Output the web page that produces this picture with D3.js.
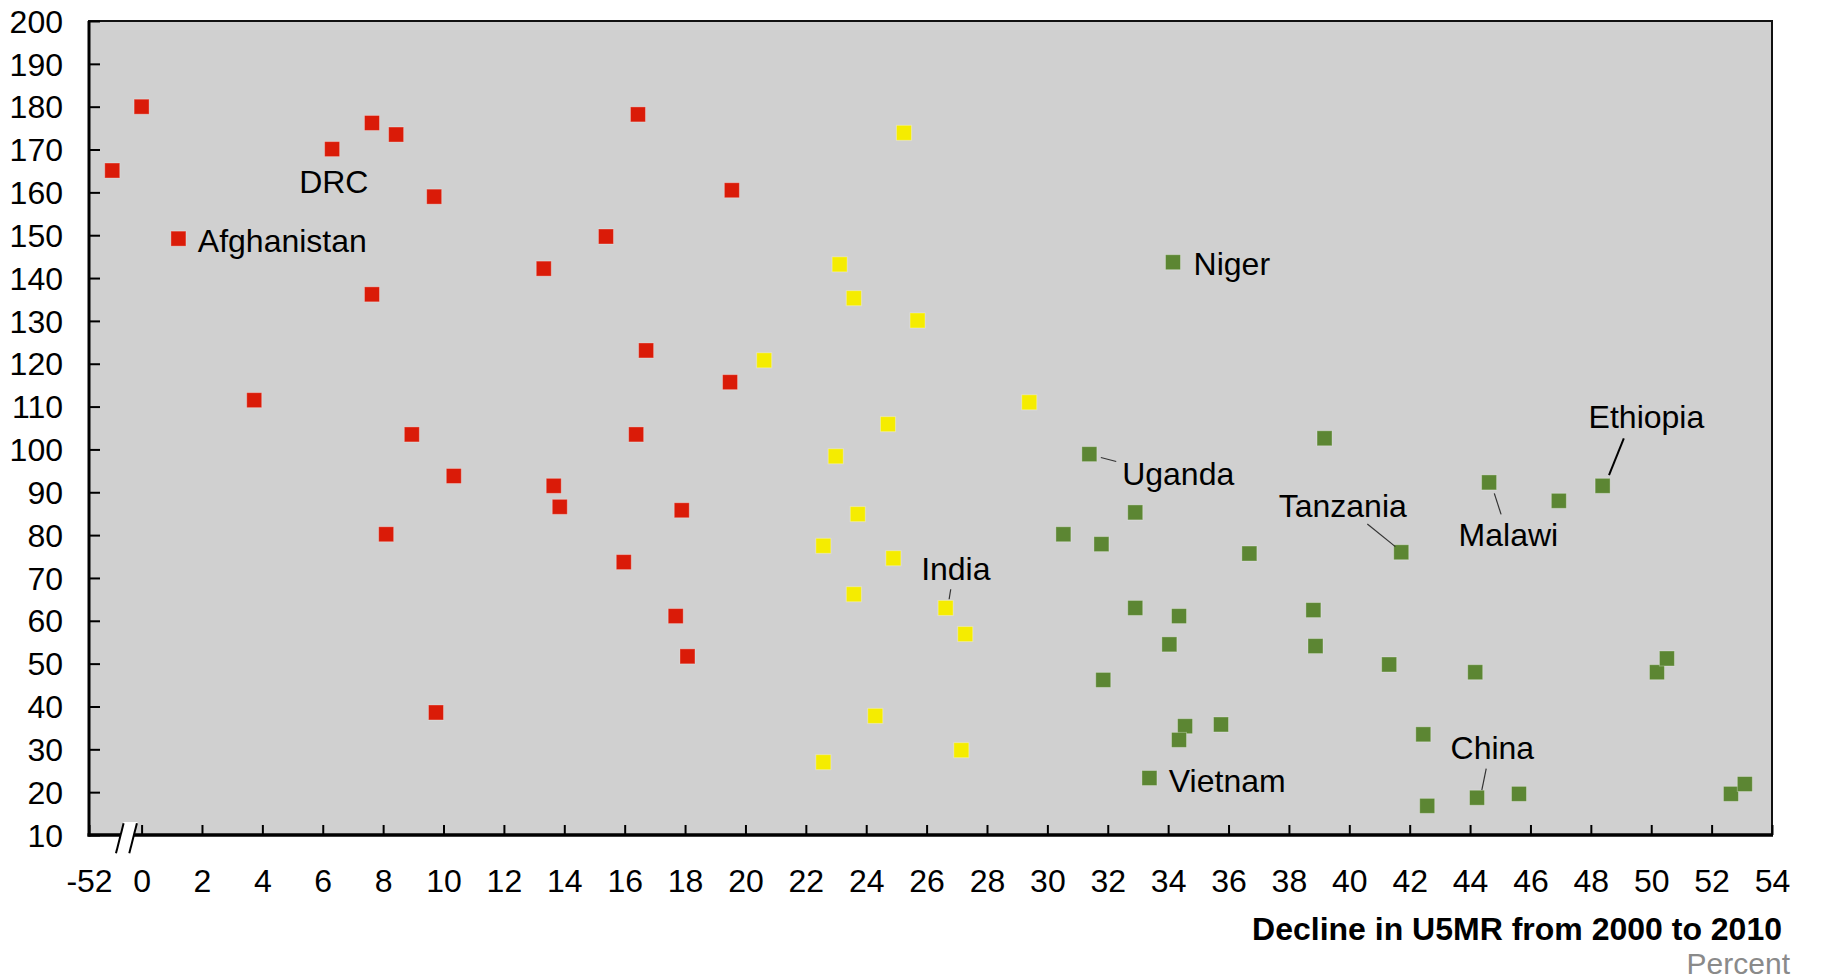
<!DOCTYPE html>
<html>
<head>
<meta charset="utf-8">
<script src="https://cdn.jsdelivr.net/npm/d3@7/dist/d3.min.js"></script>
<style>
  html, body { margin: 0; padding: 0; background: #ffffff; }
  svg { display: block; }
  text { font-family: "Liberation Sans", Arial, Helvetica, sans-serif; }
</style>
</head>
<body>
<svg id="chart" width="1847" height="980"></svg>
<script>
// ---------------- DATA ----------------
// [decline in U5MR 2000-2010 (%), U5MR level]
const redPoints = [
  [-51.23, 165.1], [0.0, 180.0], [6.31, 170.1], [7.63, 176.2], [8.43, 173.5],
  [9.69, 159.0], [1.22, 149.2], [7.63, 136.2], [13.32, 142.2], [15.38, 149.7],
  [3.73, 111.5], [8.95, 103.5], [10.34, 93.8], [13.65, 91.5], [13.85, 86.6],
  [8.10, 80.2], [9.75, 38.6], [16.44, 178.2], [19.55, 160.5], [16.71, 123.1],
  [19.49, 115.7], [16.38, 103.5], [17.89, 85.8], [15.97, 73.7], [17.69, 61.1],
  [18.08, 51.7]
];
const yellowPoints = [
  [25.25, 173.9], [23.12, 143.2], [23.59, 135.3], [25.70, 130.1], [20.62, 120.8],
  [29.40, 111.0], [24.72, 105.9], [22.99, 98.4], [23.72, 84.9], [22.58, 77.5],
  [24.90, 74.6], [23.59, 66.2], [26.63, 63.0], [27.28, 56.9], [24.30, 37.8],
  [27.15, 29.8], [22.58, 27.0]
];
const greenPoints = [
  [34.16, 143.7], [31.39, 98.9], [32.91, 85.3], [30.53, 80.2], [31.79, 77.9],
  [32.91, 63.0], [34.36, 61.1], [34.04, 54.5], [31.85, 46.2], [34.56, 35.4],
  [34.36, 32.2], [33.38, 23.3], [35.75, 35.8], [36.69, 75.7], [39.18, 102.6],
  [44.63, 92.3], [48.39, 91.5], [46.94, 88.0], [41.72, 76.0], [38.81, 62.5],
  [38.88, 54.1], [41.32, 49.8], [44.17, 48.0], [50.19, 48.0], [50.52, 51.2],
  [42.45, 33.5], [42.58, 16.8], [44.23, 18.7], [45.62, 19.6], [52.64, 19.6],
  [53.10, 21.9]
];
const seriesColors = ["#da1b08", "#f5ec00", "#5c8633"];

const xTickValues = [-52].concat(d3.range(0, 55, 2));
const yTickValues = d3.range(10, 201, 10);

const xTitle = "Decline in U5MR from 2000 to 2010";
const unitLabel = "Percent";

// Country annotations: series, index in series, label offset and optional leader
const annotations = [
  { name: "DRC",         s: 0, i: 2,  dx: 1.7,    dy: 44.3,  anchor: "middle" },
  { name: "Afghanistan", s: 0, i: 6,  dx: 19.4,   dy: 13.0 },
  { name: "Niger",       s: 2, i: 0,  dx: 20.6,   dy: 12.7 },
  { name: "Uganda",      s: 2, i: 1,  dx: 32.8,   dy: 30.7, leader: [11.5, 3.4, 26.9, 7.4] },
  { name: "India",       s: 1, i: 12, dx: -24.5,  dy: -28.0, leader: [5.1, -18.7, 3.5, -8.7] },
  { name: "Vietnam",     s: 2, i: 11, dx: 19.4,   dy: 13.7 },
  { name: "Tanzania",    s: 2, i: 18, dx: -122.5, dy: -35.6, leader: [-33.9, -28.3, -5.9, -5.6] },
  { name: "Malawi",      s: 2, i: 15, dx: -30.5,  dy: 63.4, leader: [5.2, 11.0, 12.0, 32.0] },
  { name: "Ethiopia",    s: 2, i: 16, dx: -14.0,  dy: -57.4, leader: [21.2, -47.4, 6.4, -10.7], thick: true },
  { name: "China",       s: 2, i: 27, dx: -26.5,  dy: -38.4, leader: [9.2, -29.0, 4.8, -7.7] }
];

// ---------------- LAYOUT ----------------
const svg = d3.select("#chart");
const pLeft = 89, pRight = 1772, pTop = 21, pBottom = 835;

// broken axis: a short stretch around -52, then 0..54
const x = d3.scaleLinear()
  .domain([-52, -51, -0.5, 54])
  .range([pLeft, 119.2, 126.5, pRight]);
const y = d3.scaleLinear().domain([10, 200]).range([pBottom, pTop]);

// plot background
svg.append("rect")
  .attr("x", pLeft).attr("y", pTop)
  .attr("width", pRight - pLeft).attr("height", pBottom - pTop)
  .attr("fill", "#d0d0d0")
  .attr("stroke", "#111").attr("stroke-width", 2);

// axes
const fontSize = 32;
const yAxis = d3.axisLeft(y).tickValues(yTickValues).tickSize(-11).tickPadding(26);
const gy = svg.append("g").attr("transform", `translate(${pLeft},0)`).call(yAxis);
gy.select(".domain").remove();
gy.selectAll(".tick line").attr("stroke", "#000").attr("stroke-width", 2);
gy.selectAll(".tick text")
  .attr("font-size", fontSize).attr("fill", "#000")
  .attr("font-family", "Liberation Sans, Arial, sans-serif")
  .attr("dy", "0.35em");

const xAxis = d3.axisBottom(x).tickValues(xTickValues).tickSize(-10).tickPadding(34)
  .tickFormat(d => String(d));
const gx = svg.append("g").attr("transform", `translate(0,${pBottom})`).call(xAxis);
gx.select(".domain").remove();
gx.selectAll(".tick line").attr("stroke", "#000").attr("stroke-width", 2);
gx.selectAll(".tick text")
  .attr("font-size", fontSize).attr("fill", "#000")
  .attr("font-family", "Liberation Sans, Arial, sans-serif");

// heavier left and bottom axis lines
svg.append("line").attr("x1", pLeft).attr("x2", pLeft).attr("y1", pTop).attr("y2", pBottom + 1.5)
  .attr("stroke", "#000").attr("stroke-width", 3);
svg.append("line").attr("x1", pLeft - 1.5).attr("x2", pRight + 1).attr("y1", pBottom).attr("y2", pBottom)
  .attr("stroke", "#000").attr("stroke-width", 3.5);

// axis break
const bx0 = x(-51);
svg.append("polygon")
  .attr("points", [[bx0 + 4.4, pBottom - 13], [bx0 + 18.4, pBottom - 13], [bx0 + 13.6, pBottom + 5], [bx0, pBottom + 5]].map(p => p.join(",")).join(" "))
  .attr("fill", "#ffffff");
[bx0 - 3.2, bx0 + 10.1].forEach(sx => {
  svg.append("line")
    .attr("x1", sx).attr("y1", pBottom + 18.3)
    .attr("x2", sx + 7.6).attr("y2", pBottom - 11.7)
    .attr("stroke", "#000").attr("stroke-width", 2);
});

// points
const allSeries = [redPoints, yellowPoints, greenPoints];
const msize = 15;
allSeries.forEach((pts, si) => {
  svg.append("g").selectAll("rect").data(pts).join("rect")
    .attr("x", d => x(d[0]) - msize / 2)
    .attr("y", d => y(d[1]) - msize / 2)
    .attr("width", msize).attr("height", msize)
    .attr("fill", seriesColors[si])
    .attr("stroke", "rgba(255,255,255,0.3)").attr("stroke-width", 1);
});

// annotations
annotations.forEach(a => {
  const p = allSeries[a.s][a.i];
  const px = x(p[0]), py = y(p[1]);
  if (a.leader) {
    svg.append("line")
      .attr("x1", px + a.leader[0]).attr("y1", py + a.leader[1])
      .attr("x2", px + a.leader[2]).attr("y2", py + a.leader[3])
      .attr("stroke", a.thick ? "#000" : "#333")
      .attr("stroke-width", a.thick ? 2 : 1.2);
  }
  svg.append("text")
    .attr("x", px + a.dx).attr("y", py + a.dy)
    .attr("text-anchor", a.anchor || "start")
    .attr("font-size", fontSize).attr("fill", "#000")
    .text(a.name);
});

// titles
svg.append("text")
  .attr("x", 1782).attr("y", 940).attr("text-anchor", "end")
  .attr("font-size", 32).attr("font-weight", "bold").attr("fill", "#000")
  .text(xTitle);
svg.append("text")
  .attr("x", 1790).attr("y", 974).attr("text-anchor", "end")
  .attr("font-size", 30).attr("fill", "#8a8a8a")
  .text(unitLabel);
</script>
</body>
</html>
